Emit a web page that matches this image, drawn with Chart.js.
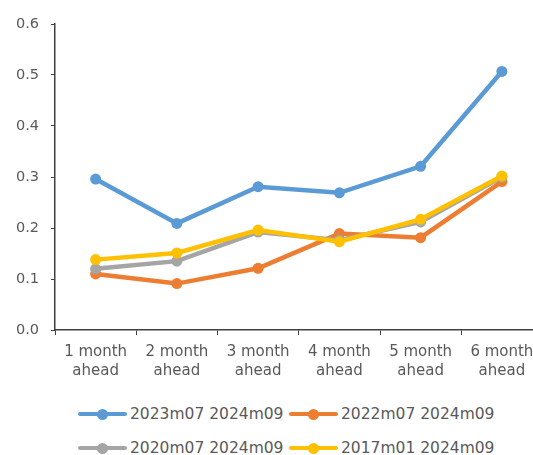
<!DOCTYPE html>
<html>
<head>
<meta charset="utf-8">
<script src="https://cdn.jsdelivr.net/npm/chart.js@4.4.1/dist/chart.umd.min.js"></script>
<style>
  html, body { margin: 0; padding: 0; background: #fff; overflow: hidden; }
  #wrap { position: relative; width: 548px; height: 455px; }
  #box { position: absolute; left: 0; top: 0; width: 548px; height: 388px; }
  .leg { position: absolute; height: 20px; display: flex; align-items: center;
         font-family: "DejaVu Sans", sans-serif; font-size: 15.5px; color: #595959; white-space: nowrap; }
  .leg .mk { position: relative; width: 49px; height: 4px; border-radius: 2px; margin-right: 3px; }
  .leg .mk i { position: absolute; left: 19px; top: -3.5px; width: 11px; height: 11px; border-radius: 50%; }
</style>
</head>
<body>
<div id="wrap">
  <div id="box"><canvas id="chart"></canvas></div>
</div>
<script>
(function() {
    'use strict';

    // categories + series
    var categories = [['1 month', 'ahead'], ['2 month', 'ahead'], ['3 month', 'ahead'],
                      ['4 month', 'ahead'], ['5 month', 'ahead'], ['6 month', 'ahead']];
    var seriesNames = ['2023m07 2024m09', '2022m07 2024m09', '2020m07 2024m09', '2017m01 2024m09'];
    var s2023m07 = [0.296, 0.209, 0.281, 0.269, 0.321, 0.507];
    var s2022m07 = [0.110, 0.091, 0.121, 0.189, 0.181, 0.291];
    var s2020m07 = [0.120, 0.135, 0.192, 0.176, 0.212, 0.300];
    var s2017m01 = [0.138, 0.151, 0.196, 0.173, 0.217, 0.302];
    var yTicks = [0, 0.1, 0.2, 0.3, 0.4, 0.5, 0.6];

    var colors = ['#5B9BD5', '#ED7D31', '#A5A5A5', '#FFC000'];
    var seriesData = [s2023m07, s2022m07, s2020m07, s2017m01];
    var axisColor = '#404040';
    var textColor = '#595959';

    var datasets = seriesData.map(function(d, i) {
        return {
            label: seriesNames[i],
            data: d,
            borderColor: colors[i],
            backgroundColor: colors[i],
            pointBackgroundColor: colors[i],
            pointBorderColor: colors[i],
            borderWidth: 4.5,
            pointRadius: 5.5,
            pointBorderWidth: 0,
            tension: 0,
            order: 4 - i   // later series on top, like the original
        };
    });

    new Chart(document.getElementById('chart'), {
        type: 'line',
        data: { labels: categories, datasets: datasets },
        options: {
            responsive: true,
            maintainAspectRatio: false,
            animation: false,
            layout: { padding: { left: 0, right: 5, top: 24, bottom: 0 } },
            plugins: {
                legend: { display: false },
                tooltip: { enabled: false }
            },
            scales: {
                x: {
                    offset: true,
                    grid: { display: true, offset: true, drawOnChartArea: false, drawTicks: true,
                            tickLength: 5, color: axisColor },
                    border: { display: true, color: axisColor, width: 1.5 },
                    ticks: {
                        color: textColor, padding: 7, maxRotation: 0, autoSkip: false,
                        font: { family: 'DejaVu Sans', size: 15, lineHeight: 1.3 }
                    }
                },
                y: {
                    min: 0, max: 0.6,
                    afterFit: function(scale) { scale.width = 55; },
                    afterBuildTicks: function(scale) {
                        scale.ticks = yTicks.map(function(v) { return { value: v }; });
                    },
                    grid: { display: true, drawOnChartArea: false, drawTicks: true,
                            tickLength: 4, color: axisColor },
                    border: { display: true, color: axisColor, width: 1.5 },
                    ticks: {
                        color: textColor, padding: 12,
                        font: { family: 'DejaVu Sans', size: 14.5 },
                        callback: function(v) { return Number(v).toFixed(1); }
                    }
                }
            }
        }
    });

    // legend in two rows, two columns
    var legPos = [[78, 404], [289, 404], [78, 438], [289, 438]];
    var wrap = document.getElementById('wrap');
    seriesNames.forEach(function(name, i) {
        var el = document.createElement('div');
        el.className = 'leg';
        el.style.left = legPos[i][0] + 'px';
        el.style.top = legPos[i][1] + 'px';
        var mk = document.createElement('span');
        mk.className = 'mk';
        mk.style.background = colors[i];
        var dot = document.createElement('i');
        dot.style.background = colors[i];
        mk.appendChild(dot);
        var tx = document.createElement('span');
        tx.textContent = name;
        el.appendChild(mk);
        el.appendChild(tx);
        wrap.appendChild(el);
    });
})();
</script>
</body>
</html>
